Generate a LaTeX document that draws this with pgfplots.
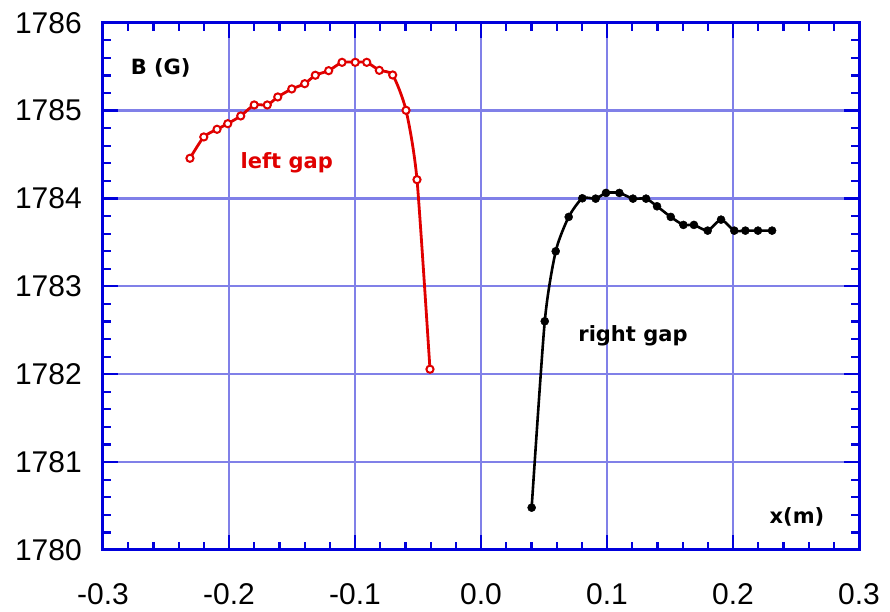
\documentclass[border=0pt]{standalone}
\usepackage{fontspec}
\setmainfont{Liberation Sans}
\newfontfamily\labfont{DejaVu Sans}
\usepackage{pgfplots}
\pgfplotsset{compat=1.18}
\definecolor{gridblue}{RGB}{128,128,232}
\definecolor{frameblue}{RGB}{0,0,220}
\definecolor{curvered}{RGB}{224,0,0}
\begin{document}
\begin{tikzpicture}
\begin{axis}[
  at={(0,0)}, anchor=south west,
  scale only axis, width=756pt, height=527.3pt,
  xmin=-0.3, xmax=0.3, ymin=1780, ymax=1786,
  xtick={-0.3,-0.2,-0.1,0,0.1,0.2,0.3},
  xticklabels={-0.3,-0.2,-0.1,0.0,0.1,0.2,0.3},
  ytick={1780,1781,1782,1783,1784,1785,1786},
  yticklabels={1780,1781,1782,1783,1784,1785,1786},
  minor tick num=4,
  tick align=inside,
  major tick length=15pt, minor tick length=8pt,
  tick style={frameblue, line width=2.2pt},
  axis line style={frameblue, line width=3pt},
  grid=major,
  major grid style={gridblue, line width=2.2pt},
  xticklabel style={font=\fontsize{30}{36}\selectfont, inner sep=0pt, anchor=north, yshift=-33pt},
  yticklabel style={font=\fontsize{30}{36}\selectfont, inner sep=0pt, anchor=east, xshift=-21pt},
]
\addplot[curvered, line width=2.8pt, smooth, tension=0.4, mark=*, mark size=3.6pt,
  mark options={fill=white, draw=curvered, line width=2pt}] coordinates {
(-0.231,1784.457) (-0.220,1784.700) (-0.2095,1784.787) (-0.201,1784.851)
(-0.1907,1784.939) (-0.180,1785.064) (-0.1696,1785.064) (-0.1613,1785.155)
(-0.1502,1785.246) (-0.1399,1785.306) (-0.1315,1785.402) (-0.1209,1785.454)
(-0.1103,1785.549) (-0.0998,1785.549) (-0.0907,1785.549) (-0.0807,1785.458)
(-0.0701,1785.405) (-0.0595,1785.003) (-0.0508,1784.214) (-0.0405,1782.057)
};
\addplot[black, line width=2.6pt, smooth, tension=0.4, mark=*, mark size=4pt,
  mark options={fill=black, draw=black, line width=0.5pt}] coordinates {
(0.0402,1780.482) (0.0506,1782.603) (0.0593,1783.399) (0.0696,1783.790)
(0.0804,1784.002) (0.0910,1783.998) (0.0992,1784.063) (0.1098,1784.063)
(0.1206,1783.998) (0.1310,1783.998) (0.1397,1783.911) (0.1506,1783.790)
(0.1606,1783.699) (0.1690,1783.699) (0.1799,1783.634) (0.1905,1783.759)
(0.2010,1783.634) (0.2098,1783.634) (0.2198,1783.634) (0.2310,1783.634)
};
\node[font=\labfont\bfseries\fontsize{21}{25}\selectfont, anchor=base] at (axis cs:-0.2542,1785.405) {B (G)};
\node[font=\labfont\bfseries\fontsize{21}{25}\selectfont, anchor=base, text=curvered] at (axis cs:-0.1542,1784.344) {left gap};
\node[font=\labfont\bfseries\fontsize{21}{25}\selectfont, anchor=base] at (axis cs:0.1206,1782.371) {right gap};
\node[font=\labfont\bfseries\fontsize{21}{25}\selectfont, anchor=base] at (axis cs:0.2508,1780.297) {x(m)};
\end{axis}
\pgfresetboundingbox
\path[use as bounding box] (-103pt,-62pt) rectangle (787pt,550pt);
\end{tikzpicture}
\end{document}
